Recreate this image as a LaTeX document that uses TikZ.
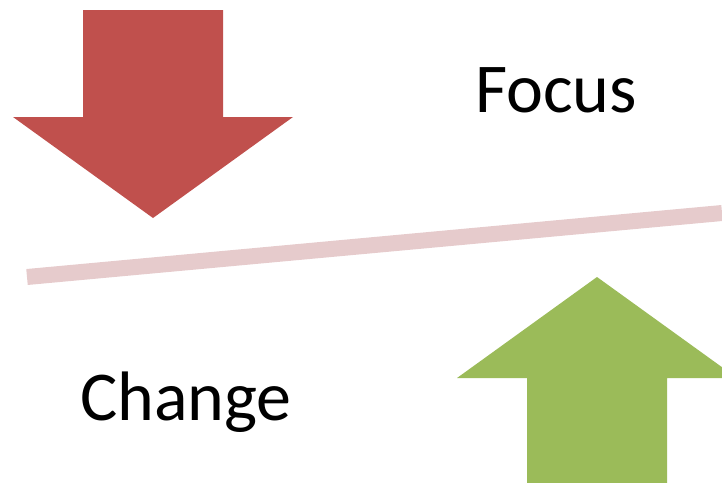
\documentclass[tikz,border=0pt]{standalone}
\usepackage{fontspec}
\setmainfont{Carlito}
\usetikzlibrary{positioning}
\definecolor{downcolor}{RGB}{192, 80, 77}
\definecolor{upcolor}{RGB}{155, 187, 89}
\definecolor{linecolor}{RGB}{230, 203, 204}

\begin{document}
\begin{tikzpicture}[x=1pt, y=-1pt,
    bigarrow/.style={draw=none},
    label/.style={inner sep=0pt, anchor=base west, font=\fontsize{70}{84}\selectfont},
    balance/.style={draw=linecolor, line width=16pt},
]
    \useasboundingbox (0, 0) rectangle (722, 482);
    \clip (0, 0) rectangle (722, 482);

    % Arrows
    \fill[bigarrow, downcolor] (83, 10) -- (223, 10) -- (223, 117) -- (293, 117)
        -- (153, 218) -- (13, 117) -- (83, 117) -- cycle;
    \fill[bigarrow, upcolor] (527, 490) -- (527, 378) -- (457, 378) -- (597, 277)
        -- (737, 378) -- (667, 378) -- (667, 490) -- cycle;

    % Line
    \coordinate (left) at (27, 277);
    \coordinate (right) at (722, 213);
    \draw[balance] (left) -- (right);

    % Labels
    \node[label] (focus) at (475, 112) {Focus};
    \node[label] (change) at (80, 420) {Change};

\end{tikzpicture}
\end{document}
